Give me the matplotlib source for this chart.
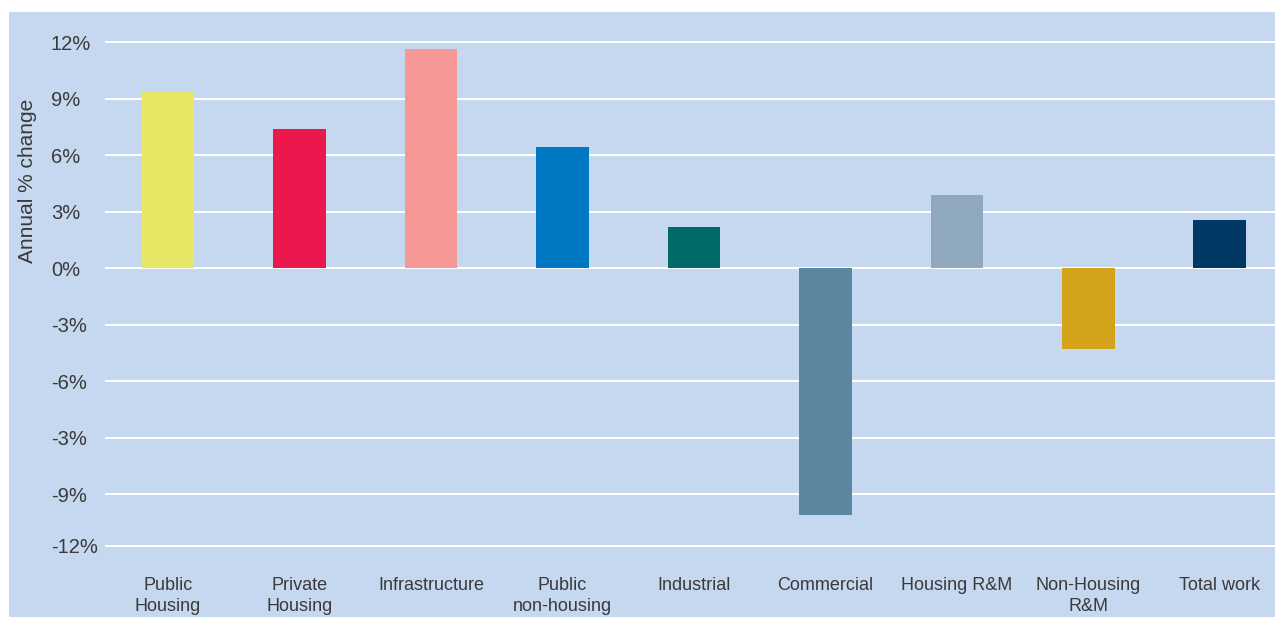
import matplotlib
matplotlib.use("Agg")
import matplotlib.pyplot as plt
from matplotlib.patches import Rectangle

# ================================
# Data
# ================================
categories = ["Public\nHousing", "Private\nHousing", "Infrastructure", "Public\nnon-housing",
              "Industrial", "Commercial", "Housing R&M", "Non-Housing\nR&M", "Total work"]
changes = [9.4, 7.4, 11.65, 6.45, 2.2, -13.1, 3.9, -4.3, 2.55]
bar_colors = ["#e7e765", "#ec174c", "#f49795", "#0077c2", "#006a6a",
              "#5b87a0", "#8fa8bd", "#d3a41a", "#023865"]

# tick labels copied as printed in the source (including its odd sequence)
tick_values = [12, 9, 6, 3, 0, -3, -6, -9, -12, -14.73]
tick_labels = ["12%", "9%", "6%", "3%", "0%", "-3%", "-6%", "-3%", "-9%", "-12%"]

bg = "#c5d8ef"
text_col = "#3a3a3a"
plt.rcParams["font.family"] = ["Liberation Sans", "DejaVu Sans"]

# ================================
# Figure
# ================================
fig = plt.figure(figsize=(12.75, 6.17), dpi=100)
fig.patch.set_facecolor("white")
fig.patches.append(Rectangle((9 / 1275, 0), 1, (617 - 12) / 617, transform=fig.transFigure,
                             facecolor=bg, edgecolor="none", zorder=-10))

ax = fig.add_axes([105 / 1275, (617 - 560) / 617, 1170 / 1275, 530 / 617])
ax.set_facecolor(bg)
ax.set_zorder(5)

x = range(len(categories))
ax.bar(x, changes, width=0.4, color=bar_colors, zorder=3)

ax.set_xlim(-0.48, 8.42)
ax.set_ylim(-15.49, 12.65)

ax.set_yticks(tick_values)
ax.set_yticklabels(tick_labels, fontsize=14.5, color=text_col, ha="left")
ax.tick_params(axis="y", length=0, pad=39)
ax.set_xticks(list(x))
ax.set_xticklabels(categories, fontsize=13, color=text_col, linespacing=1.3)
ax.tick_params(axis="x", length=0, pad=12)

ax.grid(axis="y", color="white", linewidth=1.5)
ax.set_axisbelow(True)
for s in ax.spines.values():
    s.set_visible(False)

fig.text(28 / 1275, 1 - 181 / 617, "Annual % change", rotation=90, fontsize=15,
         color=text_col, ha="center", va="center", zorder=10)

fig.savefig("out.png", dpi=100, facecolor=fig.get_facecolor())
